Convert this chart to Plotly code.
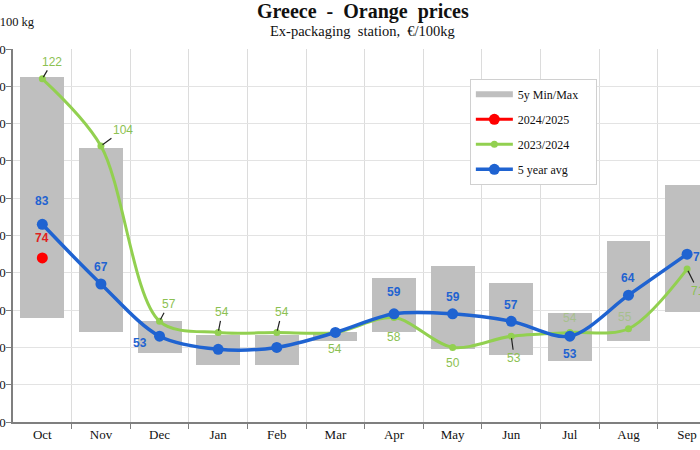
import plotly.graph_objects as go

months = ["Oct", "Nov", "Dec", "Jan", "Feb", "Mar", "Apr", "May", "Jun", "Jul", "Aug", "Sep"]
x_idx = list(range(len(months)))

min5y = [58, 54, 48.5, 45.3, 45.3, 51.6, 54, 49.6, 48, 46.4, 51.8, 59.4]
max5y = [122.4, 103.5, 57.2, 53.4, 53.4, 54.2, 68.5, 71.7, 67.3, 59.3, 78.4, 93.6]
avg5y = [83, 67, 53, 49.5, 50, 54, 59, 59, 57, 53, 64, 75]
s2324 = [122, 104, 57, 54, 54, 54, 58, 50, 53, 54, 55, 71]
s2425 = [74, None, None, None, None, None, None, None, None, None, None, None]

# label placement (pixels): blue labels shift; None = no label
blue_dx = [0, 0, -20, None, None, None, 0, 0, 0, 0, 0, 13]
blue_dy = [23, 17, -7, None, None, None, 22, 17, 16, -18, 17, -3]
# green labels: (dx, dy_up, leader line, faint)
green_pos = [(10, 17, True, False), (22, 16, True, False), (9, 17, True, False),
             (4, 20, True, False), (5, 20, True, False), (0, -17, False, False),
             (0, -19, False, False), (0, -16, False, False), (3, -22, True, False),
             (0, 14, False, True), (-3, 12, False, True), (11, -22, True, False)]

BLUE = "#1f63d1"
GREEN = "#92d050"
GREEN_TXT = "#8cc152"
RED = "#ff0000"
GRAY = "#bfbfbf"
SERIF = "Liberation Serif, Times New Roman, serif"
SANS = "Liberation Sans, Arial, sans-serif"

fig = go.Figure()
fig.add_trace(go.Bar(x=x_idx, y=[b - a for a, b in zip(min5y, max5y)], base=min5y,
                     width=0.75, marker=dict(color=GRAY, line=dict(width=0)),
                     showlegend=False, name="5y Min/Max"))
fig.add_trace(go.Scatter(x=[None], y=[None], mode="lines", name="5y Min/Max\u00a0\u00a0\u00a0\u00a0",
                         line=dict(color=GRAY, width=6), legendgroup="a", legendrank=1))
fig.add_trace(go.Scatter(x=x_idx, y=s2324, mode="lines+markers", name="2023/2024",
                         line=dict(color=GREEN, width=3, shape="spline", smoothing=0.9),
                         marker=dict(color=GREEN, size=7), legendgroup="c", legendrank=3))
fig.add_trace(go.Scatter(x=x_idx, y=s2425, mode="lines+markers", name="2024/2025",
                         line=dict(color=RED, width=3),
                         marker=dict(color=RED, size=11), legendgroup="b", legendrank=2))
fig.add_trace(go.Scatter(x=x_idx, y=avg5y, mode="lines+markers", name="5 year avg",
                         line=dict(color=BLUE, width=3.5, shape="spline", smoothing=0.9),
                         marker=dict(color=BLUE, size=11), legendgroup="d", legendrank=4))

ann = []
for i, v in enumerate(avg5y):
    if blue_dx[i] is None:
        continue
    ann.append(dict(x=i, y=v, xref="x", yref="y", text=f"{v:.0f}", showarrow=False,
                    xshift=blue_dx[i], yshift=blue_dy[i],
                    font=dict(family=SANS, size=12, color=BLUE, weight="bold")))
for i, v in enumerate(s2324):
    dx, dy, leader, faint = green_pos[i]
    f = dict(family=SANS, size=12, color=GREEN_TXT)
    if leader:
        ann.append(dict(x=i, y=v, xref="x", yref="y", text=f"{v:.0f}", showarrow=True,
                        arrowhead=0, arrowwidth=1.2, arrowcolor="#222222", standoff=2,
                        ax=dx, ay=-dy, font=f))
    else:
        ann.append(dict(x=i, y=v, xref="x", yref="y", text=f"{v:.0f}", showarrow=False,
                        xshift=dx, yshift=dy, font=f, opacity=0.45 if faint else 1))
for i, v in enumerate(s2425):
    if v is None:
        continue
    ann.append(dict(x=i, y=v, xref="x", yref="y", text=f"{v:.0f}", showarrow=False,
                    yshift=20, font=dict(family=SANS, size=12, color="#e02020", weight="bold")))

ann.append(dict(x=0.509, y=1.10, xref="paper", yref="paper", text="<b>Greece  -  Orange  prices</b>",
                showarrow=False, xanchor="center", yanchor="middle",
                font=dict(family=SERIF, size=20, color="#111111")))
ann.append(dict(x=0.509, y=1.049, xref="paper", yref="paper", text="Ex-packaging  station,  €/100kg",
                showarrow=False, xanchor="center", yanchor="middle",
                font=dict(family=SERIF, size=14.5, color="#111111")))
ann.append(dict(x=0.035, y=1.073, xref="paper", yref="paper", text="€/100 kg",
                showarrow=False, xanchor="right", yanchor="middle",
                font=dict(family=SERIF, size=12.5, color="#111111")))

fig.update_layout(
    width=700, height=450,
    margin=dict(l=13, r=0, t=49, b=28),
    paper_bgcolor="white", plot_bgcolor="white",
    annotations=ann,
    showlegend=True,
    legend=dict(x=0.665, y=0.92, xanchor="left", yanchor="top",
                bgcolor="white", bordercolor="#d0d0d0", borderwidth=1,
                font=dict(family=SERIF, size=12, color="#111111"),
                tracegroupgap=6, itemwidth=37),
    xaxis=dict(range=[-0.5, 11.22], tickvals=x_idx, ticktext=months, showgrid=False,
               ticks="", tickfont=dict(family=SERIF, size=13, color="#111111"),
               showline=True, linecolor="#7f7f7f", linewidth=1.5, zeroline=False,
               minor=dict(tickvals=[i + 0.5 for i in x_idx], ticks="outside", ticklen=5,
                          tickcolor="#7f7f7f", showgrid=True, gridcolor="#dcdcdc", gridwidth=1)),
    yaxis=dict(range=[30, 130], dtick=10, showgrid=True, gridcolor="#e3e3e3",
               showline=True, linecolor="#7f7f7f", linewidth=1.5, ticks="outside",
               ticklen=5, tickcolor="#7f7f7f", zeroline=False, automargin=False,
               ticklabelstandoff=-2,
               tickfont=dict(family=SERIF, size=13, color="#111111")),
    bargap=0,
)

fig.write_html("out.html", config={"displayModeBar": False},
               post_script="document.body.style.margin='0';document.body.style.overflow='hidden';")
